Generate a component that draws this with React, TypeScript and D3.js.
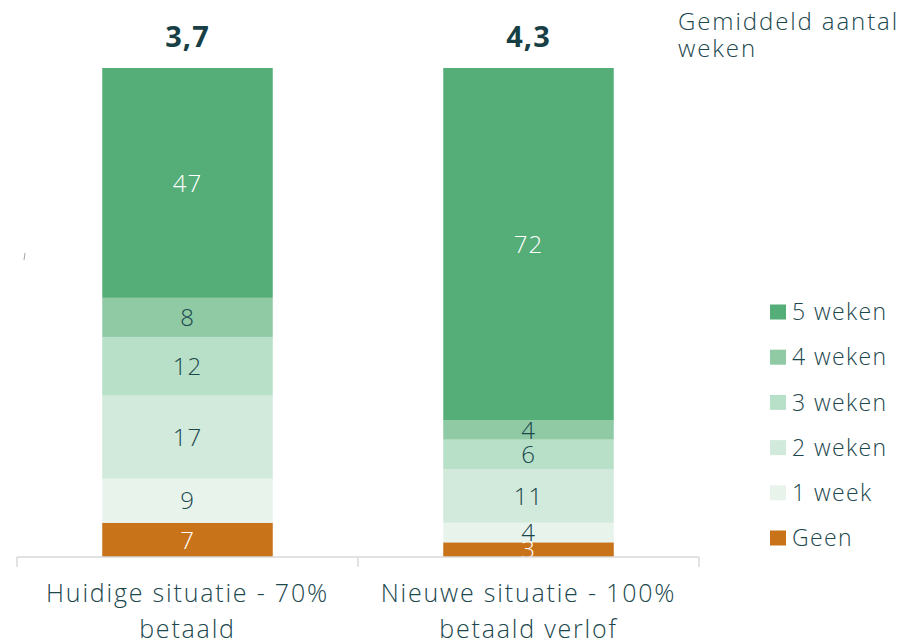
import React from "react";
import * as d3 from "d3";

const categories = ["Huidige situatie - 70%|betaald", "Nieuwe situatie - 100%|betaald verlof"];
const averages = ["3,7", "4,3"];
const seriesNames = ["Geen", "1 week", "2 weken", "3 weken", "4 weken", "5 weken"];
const seriesColors = ["#C87219", "#E8F3EC", "#D2EADB", "#B8E0C8", "#8FCAA5", "#55AD78"];
const labelColors = ["#ffffff", "#1B474D", "#1B474D", "#1B474D", "#1B474D", "#ffffff"];
const valuesCurrent = [7, 9, 17, 12, 8, 47];
const valuesNew = [3, 4, 11, 6, 4, 72];
const legendTitle = ["Gemiddeld aantal", "weken"];

const W = 905;
const H = 643;
const FONT = "'Open Sans', 'Lato', sans-serif";
const TEXT = "#1B474D";

export default function App() {
  const x = d3.scaleBand<string>().domain(categories).range([17, 699]).paddingInner(0.5).paddingOuter(0.25);
  const y = d3.scaleLinear().domain([0, 100]).range([557, 68]);
  const rows = categories.map((c, i) => {
    const vals = i === 0 ? valuesCurrent : valuesNew;
    const o: any = { cat: c };
    seriesNames.forEach((s, j) => (o[s] = vals[j]));
    return o;
  });
  const stack = d3.stack<any>().keys(seriesNames)(rows);
  const ticks = [17, 358, 699];
  const legendOrder = [...seriesNames].reverse();

  return (
    <svg width={W} height={H} style={{ position: "absolute", left: 0, top: 0, background: "#fff" }}>
      <line x1={25} y1={253} x2={24} y2={260} stroke="#9aa7a8" strokeWidth={1} />
      {stack.map((layer, si) => (
        <g key={layer.key}>
          {layer.map((d, ci) => {
            const cat = categories[ci];
            const x0 = x(cat)!;
            const y0 = y(d[1]);
            const y1 = y(d[0]);
            const v = d[1] - d[0];
            return (
              <g key={cat}>
                <rect x={x0} y={y0} width={x.bandwidth()} height={y1 - y0} fill={seriesColors[si]} />
                <text
                  x={x0 + x.bandwidth() / 2}
                  y={(y0 + y1) / 2}
                  dy="0.36em"
                  textAnchor="middle"
                  fontFamily={FONT}
                  fontWeight={300}
                  fontSize={24}
                  letterSpacing={1}
                  fill={labelColors[si]}
                >
                  {v}
                </text>
              </g>
            );
          })}
        </g>
      ))}
      <line x1={17} x2={699} y1={557} y2={557} stroke="#d9d9d9" strokeWidth={1.5} />
      {ticks.map((t) => (
        <line key={t} x1={t} x2={t} y1={557} y2={567} stroke="#d9d9d9" strokeWidth={1.5} />
      ))}
      {categories.map((c, i) => {
        const cx = x(c)! + x.bandwidth() / 2;
        return (
          <g key={c}>
            {c.split("|").map((line, li) => (
              <text
                key={li}
                x={cx}
                y={602 + li * 36}
                textAnchor="middle"
                fontFamily={FONT}
                fontWeight={300}
                fontSize={25}
                letterSpacing={1.8}
                fill={TEXT}
              >
                {line}
              </text>
            ))}
            <text x={cx} y={47} textAnchor="middle" fontFamily={FONT} fontWeight={700} fontSize={29} letterSpacing={1} fill="#173F45">
              {averages[i]}
            </text>
          </g>
        );
      })}
      {legendTitle.map((t, i) => (
        <text key={t} x={678} y={30 + i * 27} fontFamily={FONT} fontWeight={300} fontSize={24} letterSpacing={1.9} fill={TEXT}>
          {t}
        </text>
      ))}
      {legendOrder.map((s, i) => {
        const si = seriesNames.indexOf(s);
        const cy = 312 + i * 45.2;
        return (
          <g key={s}>
            <rect x={770} y={cy - 7.5} width={16} height={15} fill={seriesColors[si]} />
            <text x={792} y={cy} dy="0.36em" fontFamily={FONT} fontWeight={300} fontSize={23} letterSpacing={1.4} fill={TEXT}>
              {s}
            </text>
          </g>
        );
      })}
    </svg>
  );
}
